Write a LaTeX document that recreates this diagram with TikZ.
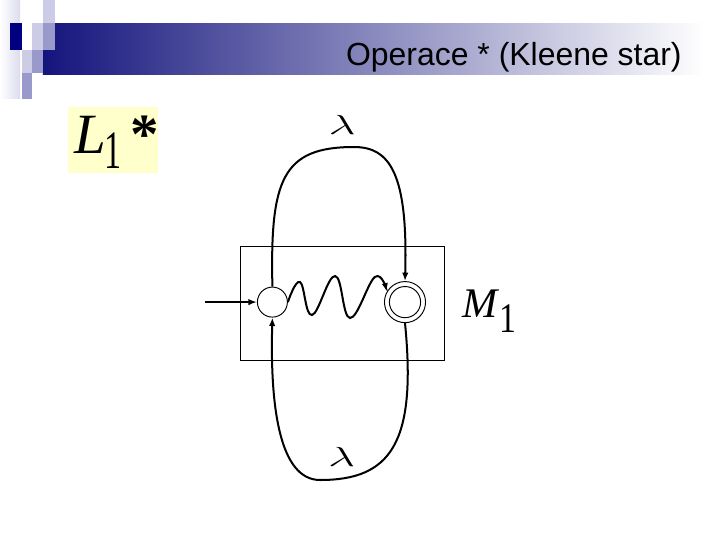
\documentclass[tikz,border=0pt]{standalone}
\usepackage{fontspec}
\setmainfont{Liberation Sans}
\newfontfamily\timesfont{Liberation Serif}
\usetikzlibrary{arrows.meta}
\definecolor{barnavy}{RGB}{20,20,125}
\definecolor{barmid}{RGB}{160,160,192}
\definecolor{sqnavy}{RGB}{0,0,128}
\definecolor{sqlight}{RGB}{204,204,230}
\definecolor{sqmid}{RGB}{153,153,204}
\definecolor{notepad}{RGB}{255,255,204}
\begin{document}
\begin{tikzpicture}[
  edge/.style={line width=1.9pt,-{Latex[length=8pt,width=6pt]}},
  state/.style={circle,draw,line width=0.9pt,inner sep=0pt},
  lab/.style={inner sep=0pt,font=\fontsize{27}{30}\selectfont}]
  \useasboundingbox (0.0,0.0) rectangle (24.0,18.0);
  \fill[white] (0.0,0.0) rectangle (24.0,18.0);

  \shade[left color=white,right color=sqlight!70] (0.0,18.0) rectangle (0.67,14.7);
  \shade[left color=barnavy,middle color=barmid,right color=white] (1.43,17.23) rectangle (23.5,15.53);
  \fill[sqnavy] (0.33,17.23) rectangle (0.73,16.33);
  \fill[white] (0.73,17.23) rectangle (1.07,16.33);
  \fill[sqlight] (1.07,17.23) rectangle (1.43,16.33);
  \fill[sqlight] (1.43,18.0) rectangle (1.83,17.23);
  \fill[sqmid] (1.43,17.23) rectangle (1.83,16.33);
  \fill[sqlight] (0.73,16.33) rectangle (1.07,15.57);
  \fill[sqmid] (1.07,16.33) rectangle (1.43,15.57);
  \fill[sqmid] (0.73,15.57) rectangle (1.07,14.7);
  \node[anchor=base east,inner sep=0pt,font=\fontsize{30.3}{36}\selectfont] (title) at (22.73,15.8) {Operace * (Kleene star)};

  \fill[notepad] (2.27,14.43) rectangle (5.27,12.23);
  \node[anchor=base west,inner sep=0pt,font=\timesfont\fontsize{54}{60}\selectfont] (lstar) at (2.48,12.9)
    {\textit{L}\hspace{-0.05cm}\raisebox{-0.53cm}{\scalebox{0.6}[0.95]{1}}\hspace{0.3cm}\textbf{*}};

  \draw[line width=0.9pt] (8.0,9.8) rectangle (14.83,6.0);
  \node[anchor=base west,inner sep=0pt,font=\timesfont\fontsize{40}{44}\selectfont] (mone) at (15.4,7.43)
    {\textit{M}\hspace{0.02cm}\raisebox{-0.5cm}{\scalebox{0.8}[1]{1}}};

  \node[state,minimum size=1.0cm] (start) at (9.08,7.93) {};
  \node[state,minimum size=1.37cm] (acc) at (13.5,7.93) {};
  \draw[line width=0.9pt] (acc.center) circle (0.52);
  \coordinate (in) at (6.83,7.93);

  \draw[edge] (in) -- (start);
  \draw[edge] plot[smooth,tension=0.7] coordinates {(start.east) (10.0,8.6) (10.4,7.5) (11.17,8.8) (11.67,7.4) (12.5,8.77) (acc.150)};
  \draw[edge] (start.north) .. controls (9.0,12.0) and (9.4,13.1) .. (11.8,13.1)
    .. controls (13.0,13.1) and (13.6,12.2) .. (acc.north);
  \draw[edge] (acc.south) .. controls (13.9,3.2) and (13.0,2.0) .. (10.67,2.0)
    .. controls (9.3,2.0) and (9.0,4.5) .. (start.south);
  \node[lab] (lamtop) at (11.4,13.83) {\scalebox{1.8}[1.05]{$\lambda$}};
  \node[lab] (lambot) at (11.39,2.78) {\scalebox{1.8}[1.05]{$\lambda$}};
\end{tikzpicture}
\end{document}
